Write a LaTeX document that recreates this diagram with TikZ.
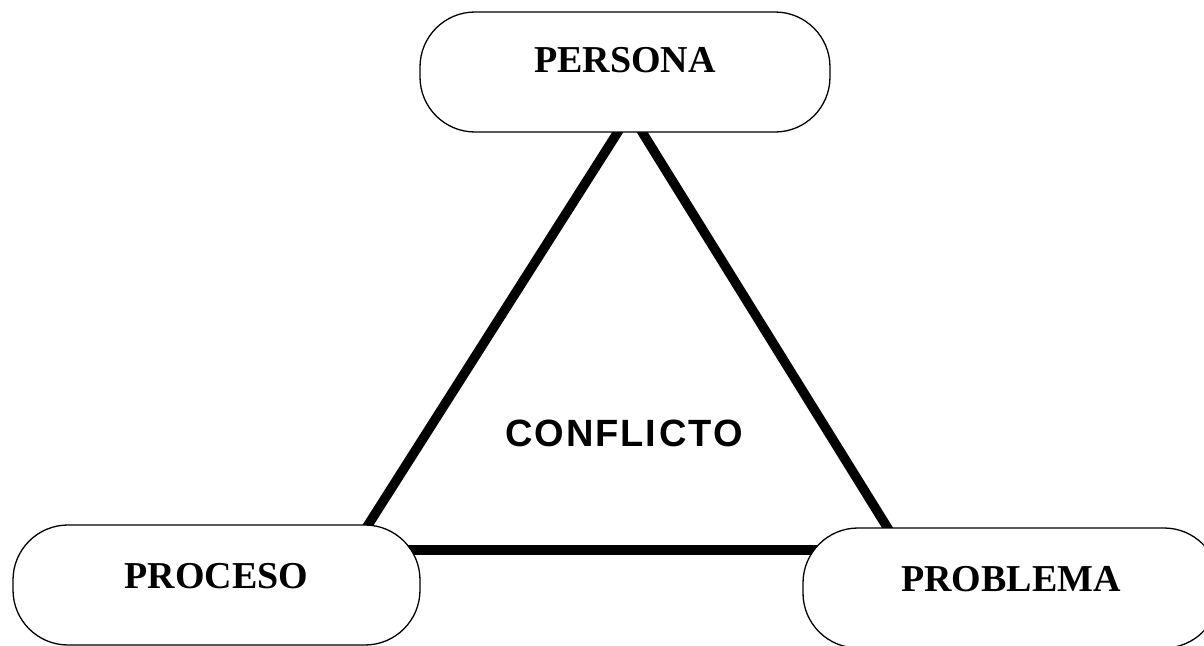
\documentclass[tikz,border=0pt]{standalone}
\usepackage{fontspec}
\setmainfont{Liberation Serif}
\newfontfamily\centresans[LetterSpace=5]{Liberation Sans}
\usetikzlibrary{calc}
\pgfdeclarelayer{links}
\pgfsetlayers{links,main}

\begin{document}
\begin{tikzpicture}[x=1pt,y=-1pt,
  termbox/.style={draw, fill=white, line width=1.3pt, rounded corners=55pt,
    minimum width=#1, minimum height=120pt, inner sep=0pt,
    font=\fontsize{38}{40}\selectfont\bfseries},
  link/.style={line width=9.5pt, line cap=butt}]
\useasboundingbox (0,0) rectangle (1204,645);
\clip (0,0) rectangle (1204,645);

% the three corners of the triangle
\node[termbox=410pt, text depth=24pt] (persona)  at (625,72)    {PERSONA};
\node[termbox=407pt, text depth=18pt] (proceso)  at (216.5,585) {PROCESO};
\node[termbox=416pt, text depth=18pt] (problema) at (1011,588)  {PROBLEMA};

% centre label
\node[font=\centresans\bfseries\fontsize{38}{40}\selectfont, text depth=0pt, inner sep=0pt]
  (conflicto) at (624,433.5) {CONFLI\kern3pt CTO};

% thick sides, tucked under the boxes
\begin{pgfonlayer}{links}
\draw[link] ($(persona.south)+(-5,-4)$) -- ($(proceso.north east)+(-56,6)$);
\draw[link] ($(persona.south)+(15,-4)$) -- ($(problema.north west)+(88,5)$);
\draw[link] ($(proceso.east)+(-20,-35)$) -- ($(problema.west)+(30,-38)$);
\end{pgfonlayer}
\end{tikzpicture}
\end{document}
